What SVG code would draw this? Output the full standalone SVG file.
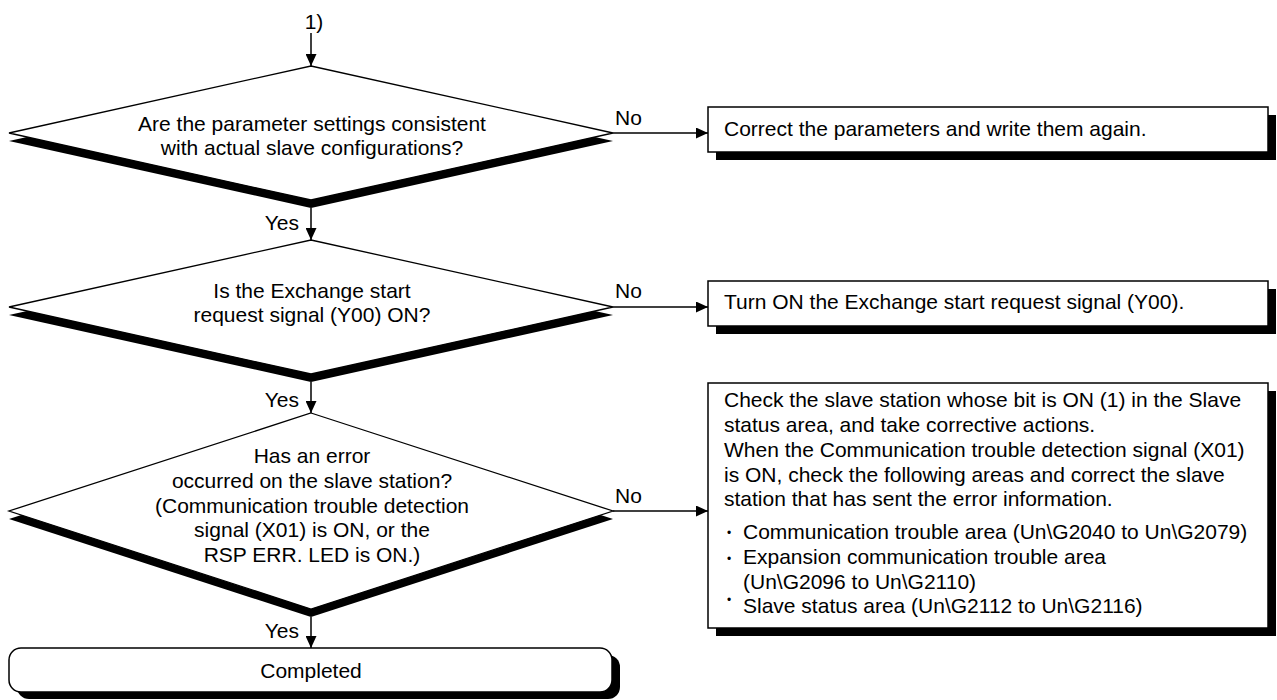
<svg xmlns="http://www.w3.org/2000/svg" width="1277" height="700" viewBox="0 0 1277 700">
<style>
text{font-family:"Liberation Sans",Arial,sans-serif;font-size:21px;fill:#000}
.c{text-anchor:middle}
.e{text-anchor:end}
.bul{font-size:12px}
.shadow{fill:#000;stroke:none}
.dia{fill:#fff;stroke:#000;stroke-width:1.3}
.box{fill:#fff;stroke:#000;stroke-width:1.5}
.conn{stroke:#000;stroke-width:1.5;fill:none;marker-end:url(#arr)}
</style>
<defs>
<marker id="arr" markerUnits="userSpaceOnUse" markerWidth="12" markerHeight="11" refX="12" refY="5.5" orient="auto">
<path d="M0,0 L12,5.5 L0,11 Z" fill="#000"/>
</marker>
</defs>
<rect width="1277" height="700" fill="#fff"/>
<g id="start-label"><text class="c" x="314" y="29">1)</text></g>
<g id="d1">
<polygon class="shadow" points="311,74 613,141 311,208 9,141"/>
<polygon class="dia" points="311,66 613,133 311,200 9,133"/>
<text class="c" x="312" y="131">Are the parameter settings consistent</text>
<text class="c" x="312" y="155">with actual slave configurations?</text>
</g>
<g id="d2">
<polygon class="shadow" points="311,248 613,315 311,382 9,315"/>
<polygon class="dia" points="311,240 613,307 311,374 9,307"/>
<text class="c" x="312" y="298">Is the Exchange start</text>
<text class="c" x="312" y="322">request signal (Y00) ON?</text>
</g>
<g id="d3">
<polygon class="shadow" points="311,421 613,519 311,617 9,519"/>
<polygon class="dia" points="311,413 613,511 311,609 9,511"/>
<text class="c" x="312" y="463">Has an error</text>
<text class="c" x="312" y="488">occurred on the slave station?</text>
<text class="c" x="312" y="513">(Communication trouble detection</text>
<text class="c" x="312" y="537">signal (X01) is ON, or the</text>
<text class="c" x="312" y="562">RSP ERR. LED is ON.)</text>
</g>
<g id="b1">
<rect class="shadow" x="716" y="115" width="560" height="45"/>
<rect class="box" x="708" y="107" width="560" height="45"/>
<text x="724" y="136">Correct the parameters and write them again.</text>
</g>
<g id="b2">
<rect class="shadow" x="716" y="289" width="560" height="45"/>
<rect class="box" x="708" y="281" width="560" height="45"/>
<text x="724" y="309">Turn ON the Exchange start request signal (Y00).</text>
</g>
<g id="b3">
<rect class="shadow" x="716" y="391" width="560" height="245"/>
<rect class="box" x="708" y="383" width="560" height="245"/>
<text x="724" y="407">Check the slave station whose bit is ON (1) in the Slave</text>
<text x="724" y="432">status area, and take corrective actions.</text>
<text x="724" y="457">When the Communication trouble detection signal (X01)</text>
<text x="724" y="482">is ON, check the following areas and correct the slave</text>
<text x="724" y="506">station that has sent the error information.</text>
<text class="bul" x="727" y="537">•</text>
<text x="743" y="539">Communication trouble area (Un\G2040 to Un\G2079)</text>
<text class="bul" x="727" y="563">•</text>
<text x="743" y="564">Expansion communication trouble area</text>
<text x="743" y="589">(Un\G2096 to Un\G2110)</text>
<text class="bul" x="727" y="604">•</text>
<text x="743" y="613">Slave status area (Un\G2112 to Un\G2116)</text>
</g>
<g id="end">
<rect class="shadow" x="17" y="655" width="603" height="44" rx="12"/>
<rect class="box" x="9" y="648" width="603" height="44" rx="12"/>
<text class="c" x="311" y="678">Completed</text>
</g>
<g id="connectors">
<line class="conn" x1="311" y1="33" x2="311" y2="66"/>
<line class="conn" x1="311" y1="208" x2="311" y2="240"/>
<line class="conn" x1="311" y1="382" x2="311" y2="413"/>
<line class="conn" x1="311" y1="617" x2="311" y2="648"/>
<line class="conn" x1="613" y1="133" x2="708" y2="133"/>
<line class="conn" x1="613" y1="307" x2="708" y2="307"/>
<line class="conn" x1="613" y1="511" x2="708" y2="511"/>
<text class="e" x="299" y="230">Yes</text>
<text class="e" x="299" y="407">Yes</text>
<text class="e" x="299" y="638">Yes</text>
<text x="615" y="125">No</text>
<text x="615" y="298">No</text>
<text x="615" y="503">No</text>
</g>
</svg>
